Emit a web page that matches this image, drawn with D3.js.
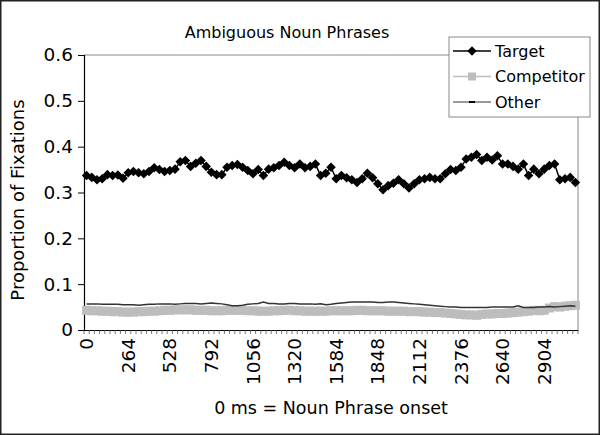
<!DOCTYPE html>
<html>
<head>
<meta charset="utf-8">
<script src="https://cdn.jsdelivr.net/npm/d3@7"></script>
<style>
  body { margin: 0; background: #fff; }
  text { font-family: "DejaVu Sans", sans-serif; fill: #000; }
</style>
</head>
<body>
<script>
// time bins (ms after noun phrase onset)
const times = [0, 33, 66, 99, 132, 165, 198, 231, 264, 297, 330, 363, 396, 429, 462, 495,
  528, 561, 594, 627, 660, 693, 726, 759, 792, 825, 858, 891, 924, 957, 990, 1023,
  1056, 1089, 1122, 1155, 1188, 1221, 1254, 1287, 1320, 1353, 1386, 1419, 1452, 1485, 1518, 1551,
  1584, 1617, 1650, 1683, 1716, 1749, 1782, 1815, 1848, 1881, 1914, 1947, 1980, 2013, 2046, 2079,
  2112, 2145, 2178, 2211, 2244, 2277, 2310, 2343, 2376, 2409, 2442, 2475, 2508, 2541, 2574, 2607,
  2640, 2673, 2706, 2739, 2772, 2805, 2838, 2871, 2904, 2937, 2970, 3003, 3036, 3069, 3102]

const tickLabels = [0, 264, 528, 792, 1056, 1320, 1584, 1848, 2112, 2376, 2640, 2904]
const yTicks = [0, 0.1, 0.2, 0.3, 0.4, 0.5, 0.6]

const target = [0.337, 0.333, 0.328, 0.330, 0.339, 0.337, 0.338, 0.331, 0.343, 0.346,
  0.343, 0.341, 0.346, 0.354, 0.350, 0.346, 0.348, 0.351, 0.367, 0.370,
  0.357, 0.364, 0.370, 0.357, 0.344, 0.339, 0.339, 0.355, 0.359, 0.361,
  0.355, 0.348, 0.341, 0.350, 0.337, 0.351, 0.354, 0.359, 0.366, 0.359,
  0.354, 0.362, 0.354, 0.357, 0.362, 0.337, 0.342, 0.355, 0.330, 0.337,
  0.332, 0.328, 0.322, 0.330, 0.342, 0.332, 0.319, 0.306, 0.315, 0.320,
  0.328, 0.319, 0.310, 0.319, 0.328, 0.330, 0.333, 0.330, 0.330, 0.341,
  0.350, 0.348, 0.355, 0.373, 0.377, 0.383, 0.370, 0.377, 0.371, 0.380,
  0.362, 0.362, 0.357, 0.351, 0.362, 0.337, 0.351, 0.341, 0.351, 0.359,
  0.362, 0.328, 0.330, 0.333, 0.322]

const competitor = [0.043, 0.042, 0.042, 0.041, 0.041, 0.040, 0.040, 0.039, 0.039, 0.039,
  0.040, 0.040, 0.041, 0.041, 0.042, 0.043, 0.043, 0.044, 0.044, 0.044,
  0.044, 0.043, 0.043, 0.043, 0.042, 0.042, 0.042, 0.043, 0.043, 0.043,
  0.043, 0.042, 0.042, 0.041, 0.041, 0.041, 0.042, 0.042, 0.043, 0.043,
  0.042, 0.042, 0.041, 0.041, 0.041, 0.041, 0.041, 0.042, 0.042, 0.042,
  0.042, 0.042, 0.043, 0.043, 0.042, 0.042, 0.042, 0.042, 0.041, 0.041,
  0.041, 0.041, 0.040, 0.040, 0.040, 0.039, 0.039, 0.038, 0.038, 0.037,
  0.036, 0.035, 0.034, 0.033, 0.033, 0.032, 0.034, 0.035, 0.035, 0.036,
  0.036, 0.037, 0.038, 0.039, 0.040, 0.041, 0.043, 0.042, 0.043, 0.048,
  0.051, 0.050, 0.052, 0.053, 0.054]

const other = [0.057, 0.057, 0.057, 0.056, 0.056, 0.056, 0.056, 0.055, 0.055, 0.055,
  0.054, 0.055, 0.056, 0.056, 0.057, 0.057, 0.057, 0.056, 0.057, 0.058,
  0.058, 0.058, 0.057, 0.058, 0.059, 0.058, 0.057, 0.055, 0.053, 0.053,
  0.054, 0.056, 0.057, 0.058, 0.061, 0.058, 0.058, 0.057, 0.057, 0.058,
  0.058, 0.057, 0.057, 0.057, 0.056, 0.057, 0.055, 0.056, 0.058, 0.059,
  0.060, 0.061, 0.061, 0.061, 0.061, 0.061, 0.060, 0.060, 0.061, 0.061,
  0.060, 0.059, 0.058, 0.057, 0.056, 0.055, 0.054, 0.053, 0.052, 0.051,
  0.050, 0.050, 0.049, 0.049, 0.049, 0.049, 0.049, 0.049, 0.050, 0.050,
  0.050, 0.050, 0.050, 0.053, 0.049, 0.049, 0.049, 0.050, 0.050, 0.051,
  0.050, 0.051, 0.052, 0.053, 0.052]

const width = 600, height = 435
const margin = {top: 55, right: 22, bottom: 105, left: 84}

const svg = d3.select('body').append('svg')
    .attr('width', width)
    .attr('height', height)

// outer frame
svg.append('rect')
    .attr('x', 0.75).attr('y', 0.75)
    .attr('width', width - 1.5).attr('height', height - 1.5)
    .attr('fill', '#fff').attr('stroke', '#222').attr('stroke-width', 1.5)

const xScale = d3.scaleBand()
    .domain(times)
    .range([margin.left, width - margin.right])

const yScale = d3.scaleLinear()
    .domain([0, 0.6])
    .range([height - margin.bottom, margin.top])

const x0 = margin.left, x1 = width - margin.right
const yb = height - margin.bottom, yt = margin.top

// plot area border (top + right grey)
svg.append('path')
    .attr('d', `M${x0},${yt}H${x1}V${yb}`)
    .attr('fill', 'none').attr('stroke', '#888').attr('stroke-width', 1)

// y axis
const yAxis = svg.append('g')
    .attr('transform', 'translate(' + x0 + ',0)')
    .call(d3.axisLeft(yScale).tickValues(yTicks).tickSize(6).tickPadding(5)
        .tickFormat(d => d === 0 ? '0' : d3.format('.1f')(d)))
yAxis.selectAll('text').style('font-size', '18.5px')
yAxis.select('.domain').attr('stroke', '#000').attr('stroke-width', 1.2)

// x axis: labels every 8 bins
const xAxis = svg.append('g')
    .attr('transform', 'translate(0,' + yb + ')')
    .call(d3.axisBottom(xScale).tickValues(tickLabels).tickSize(0).tickSizeOuter(0))
xAxis.select('.domain').attr('stroke', '#000').attr('stroke-width', 1.2)
xAxis.selectAll('text')
    .style('font-size', '18.5px')
    .attr('transform', 'rotate(-90)')
    .attr('text-anchor', 'end')
    .attr('x', -8)
    .attr('y', 0)
    .attr('dy', '0.36em')

// minor ticks at every bin boundary
const bounds = times.map(t => xScale(t)).concat([xScale.range()[1]])
svg.append('g').selectAll('line').data(bounds).enter()
    .append('line')
    .attr('x1', d => d).attr('x2', d => d)
    .attr('y1', yb).attr('y2', yb + 4)
    .attr('stroke', '#555').attr('stroke-width', 0.8)

const cx = d => xScale(d.t) + xScale.bandwidth() / 2
const line = d3.line().x(cx).y(d => yScale(d.v))

const toPts = arr => arr.map((v, i) => ({t: times[i], v: v}))

// competitor
const compPts = toPts(competitor)
svg.append('path').datum(compPts)
    .attr('d', line)
    .attr('fill', 'none').attr('stroke', '#bdbdbd').attr('stroke-width', 3)
svg.append('g').selectAll('rect').data(compPts).enter()
    .append('rect')
    .attr('x', d => cx(d) - 4.5).attr('y', d => yScale(d.v) - 4.5)
    .attr('width', 9).attr('height', 9)
    .attr('fill', '#bdbdbd')

// other
svg.append('path').datum(toPts(other))
    .attr('d', line)
    .attr('fill', 'none').attr('stroke', '#333').attr('stroke-width', 1.5)

// target
const targPts = toPts(target)
svg.append('path').datum(targPts)
    .attr('d', line)
    .attr('fill', 'none').attr('stroke', '#000').attr('stroke-width', 1.5)
const diamond = d3.symbol().type(d3.symbolDiamond2).size(58)
svg.append('g').selectAll('path').data(targPts).enter()
    .append('path')
    .attr('d', diamond)
    .attr('transform', d => 'translate(' + cx(d) + ',' + yScale(d.v) + ')')
    .attr('fill', '#000')

// title
svg.append('text')
    .attr('x', 287).attr('y', 38)
    .attr('text-anchor', 'middle')
    .style('font-size', '16px')
    .text('Ambiguous Noun Phrases')

// axis titles
svg.append('text')
    .attr('x', 331).attr('y', 414)
    .attr('text-anchor', 'middle')
    .style('font-size', '17.5px')
    .text('0 ms = Noun Phrase onset')

svg.append('text')
    .attr('transform', 'translate(24,200) rotate(-90)')
    .attr('text-anchor', 'middle')
    .style('font-size', '18px')
    .text('Proportion of Fixations')

// legend
const legend = svg.append('g').attr('transform', 'translate(449,37)')
legend.append('rect')
    .attr('width', 141).attr('height', 80)
    .attr('fill', '#fff').attr('stroke', '#888').attr('stroke-width', 1)

const legItems = [
  {name: 'Target', color: '#000', w: 1.5, mark: 'diamond'},
  {name: 'Competitor', color: '#bdbdbd', w: 1.5, mark: 'square'},
  {name: 'Other', color: '#333', w: 1, mark: 'dash'}
]
legItems.forEach((it, i) => {
  const y = 14 + i * 25.5
  const g = legend.append('g').attr('transform', 'translate(0,' + y + ')')
  g.append('line').attr('x1', 4).attr('x2', 42).attr('y1', 0).attr('y2', 0)
      .attr('stroke', it.color).attr('stroke-width', it.w)
  if (it.mark === 'diamond') {
    g.append('path').attr('d', diamond).attr('transform', 'translate(23,0)').attr('fill', '#000')
  } else if (it.mark === 'square') {
    g.append('rect').attr('x', 19).attr('y', -4).attr('width', 8).attr('height', 8).attr('fill', it.color)
  } else {
    g.append('line').attr('x1', 20).attr('x2', 26).attr('y1', 0).attr('y2', 0)
        .attr('stroke', '#000').attr('stroke-width', 2)
  }
  g.append('text').attr('x', 46).attr('y', 0).attr('dy', '0.36em')
      .style('font-size', '16px').text(it.name)
})
</script>
</body>
</html>
